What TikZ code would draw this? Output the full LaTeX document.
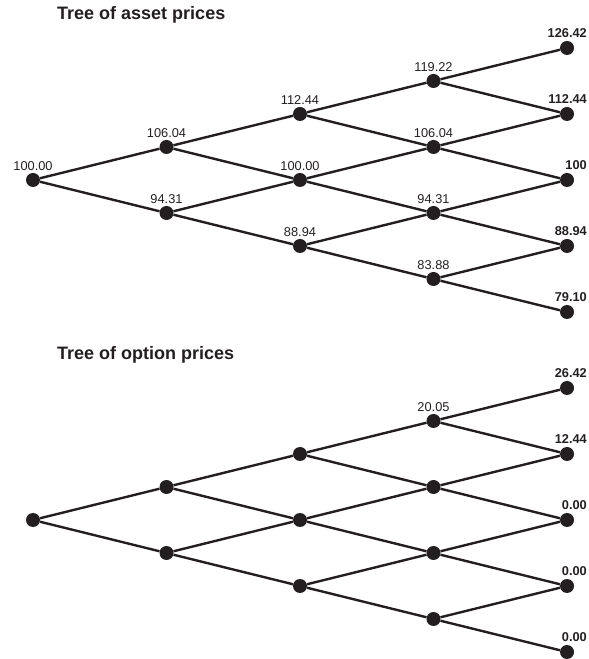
\documentclass[tikz,border=0pt]{standalone}
\usepackage{fontspec}
\setmainfont{Liberation Sans}
\definecolor{ink}{HTML}{231F20}
\begin{document}
\begin{tikzpicture}[x=1pt,y=1pt,
  dot/.style={circle,fill=ink,draw=none,minimum size=14pt,inner sep=0pt},
  edge/.style={draw=ink,line width=2.4pt},
  lbl/.style={font=\fontsize{12.8}{14}\selectfont,text=ink,inner sep=0pt,anchor=base},
  blbl/.style={font=\bfseries\fontsize{12.8}{14}\selectfont,text=ink,inner sep=0pt,anchor=base east},
  ttl/.style={font=\bfseries\fontsize{18}{20}\selectfont,text=ink,inner sep=0pt,anchor=base west}]
\useasboundingbox (0,0) rectangle (589,659);
% titles
\node[ttl] (t1) at (57,639) {Tree of asset prices};
\node[ttl] (t2) at (57,299) {Tree of option prices};
% nodes
\foreach \i in {0,...,4}{
  \foreach \j in {0,...,\i}{
    \pgfmathsetmacro\xx{33+133.5*\i}
    \pgfmathsetmacro\ya{659-180+33*\i-66*\j}
    \pgfmathsetmacro\yb{659-520+33*\i-66*\j}
    \node[dot] (A-\i-\j) at (\xx,\ya) {};
    \node[dot] (B-\i-\j) at (\xx,\yb) {};
  }
}
% edges
\foreach \i in {0,...,3}{
  \foreach \j in {0,...,\i}{
    \pgfmathtruncatemacro\ni{\i+1}
    \pgfmathtruncatemacro\nj{\j+1}
    \draw[edge] (A-\i-\j) -- (A-\ni-\j);
    \draw[edge] (A-\i-\j) -- (A-\ni-\nj);
    \draw[edge] (B-\i-\j) -- (B-\ni-\j);
    \draw[edge] (B-\i-\j) -- (B-\ni-\nj);
  }
}
% asset labels
\foreach \i/\j/\v in {0/0/100.00, 1/0/106.04, 1/1/94.31, 2/0/112.44, 2/1/100.00, 2/2/88.94,
  3/0/119.22, 3/1/106.04, 3/2/94.31, 3/3/83.88}{
  \node[lbl] (LA-\i-\j) at ([yshift=9pt]A-\i-\j.center) {\v};
}
\foreach \j/\v in {0/126.42, 1/112.44, 2/100, 3/88.94, 4/79.10}{
  \node[blbl] (LA-4-\j) at ([xshift=20pt,yshift=10pt]A-4-\j.center) {\v};
}
% option labels
\node[lbl] (LB-3-0) at ([yshift=9pt]B-3-0.center) {20.05};
\foreach \j/\v in {0/26.42, 1/12.44, 2/0.00, 3/0.00, 4/0.00}{
  \node[blbl] (LB-4-\j) at ([xshift=20pt,yshift=10pt]B-4-\j.center) {\v};
}
\end{tikzpicture}
\end{document}
